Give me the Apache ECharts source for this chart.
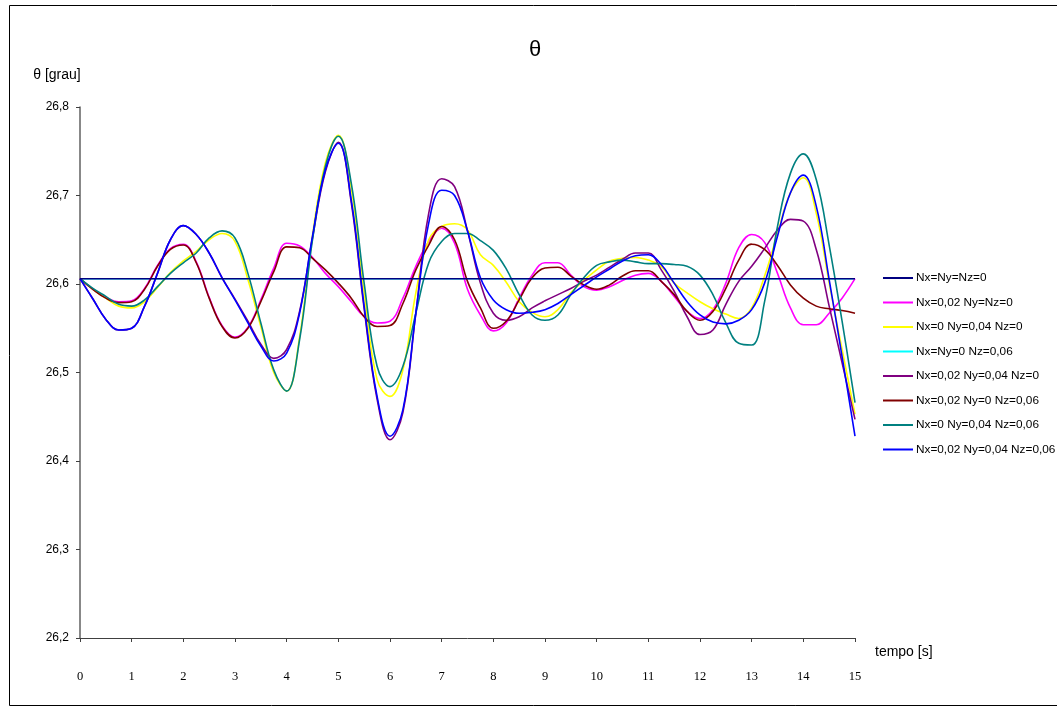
<!DOCTYPE html>
<html>
<head>
<meta charset="utf-8">
<script src="https://cdn.jsdelivr.net/npm/echarts@6/dist/echarts.min.js"></script>
<style>
html,body{margin:0;padding:0;background:#fff;}
#chart{width:1057px;height:715px;}
</style>
</head>
<body>
<div id="chart"></div>
<script>
// ---- data ----
const tempo = [0,0.25,0.5,0.75,1,1.25,1.5,1.75,2,2.25,2.5,2.75,3,3.25,3.5,3.75,4,4.25,4.5,4.75,5,5.25,5.5,5.75,6,6.25,6.5,6.75,7,7.25,7.5,7.75,8,8.25,8.5,8.75,9,9.25,9.5,9.75,10,10.25,10.5,10.75,11,11.25,11.5,11.75,12,12.25,12.5,12.75,13,13.25,13.5,13.75,14,14.25,14.5,14.75,15];
const tempoConst = [0, 15];

const seriesNames = [
  'Nx=Ny=Nz=0',
  'Nx=0,02 Ny=Nz=0',
  'Nx=0 Ny=0,04 Nz=0',
  'Nx=Ny=0 Nz=0,06',
  'Nx=0,02 Ny=0,04 Nz=0',
  'Nx=0,02 Ny=0 Nz=0,06',
  'Nx=0 Ny=0,04 Nz=0,06',
  'Nx=0,02 Ny=0,04 Nz=0,06'
];

const sNull = [26.606, 26.606];
const sNx = [26.606,26.594,26.585,26.580,26.581,26.595,26.621,26.640,26.645,26.625,26.585,26.553,26.540,26.551,26.582,26.618,26.646,26.643,26.630,26.612,26.597,26.580,26.563,26.556,26.558,26.584,26.620,26.648,26.663,26.646,26.594,26.565,26.547,26.556,26.584,26.610,26.624,26.624,26.610,26.597,26.593,26.597,26.604,26.610,26.612,26.603,26.586,26.569,26.561,26.571,26.601,26.641,26.656,26.647,26.612,26.573,26.554,26.554,26.567,26.584,26.606];
const sNy = [26.606,26.594,26.584,26.575,26.573,26.580,26.596,26.613,26.626,26.637,26.650,26.657,26.648,26.605,26.552,26.500,26.479,26.540,26.655,26.737,26.768,26.708,26.590,26.492,26.473,26.503,26.590,26.650,26.665,26.668,26.661,26.633,26.621,26.602,26.580,26.568,26.563,26.571,26.590,26.604,26.616,26.626,26.629,26.630,26.627,26.620,26.601,26.590,26.580,26.572,26.566,26.561,26.573,26.609,26.657,26.703,26.720,26.680,26.601,26.526,26.453];
const sNz = [26.606, 26.606];
const sNxNy = [26.606,26.583,26.560,26.548,26.550,26.575,26.612,26.650,26.666,26.656,26.635,26.607,26.583,26.558,26.532,26.516,26.526,26.569,26.652,26.727,26.760,26.692,26.572,26.470,26.424,26.455,26.567,26.680,26.719,26.710,26.660,26.601,26.567,26.559,26.563,26.573,26.581,26.588,26.595,26.603,26.610,26.619,26.628,26.635,26.635,26.616,26.592,26.563,26.543,26.548,26.577,26.603,26.620,26.640,26.661,26.673,26.671,26.639,26.575,26.511,26.447];
const sNxNz = [26.606,26.594,26.584,26.579,26.580,26.594,26.620,26.639,26.644,26.624,26.584,26.552,26.539,26.550,26.580,26.614,26.642,26.641,26.629,26.616,26.601,26.584,26.563,26.552,26.553,26.578,26.616,26.644,26.665,26.650,26.603,26.573,26.550,26.558,26.582,26.607,26.618,26.619,26.609,26.599,26.594,26.599,26.609,26.615,26.615,26.603,26.588,26.569,26.559,26.569,26.595,26.627,26.645,26.639,26.621,26.599,26.584,26.575,26.572,26.570,26.567];
const sNyNz = [26.606,26.595,26.586,26.577,26.575,26.582,26.597,26.612,26.624,26.635,26.652,26.660,26.652,26.612,26.556,26.503,26.479,26.537,26.650,26.733,26.767,26.714,26.601,26.507,26.484,26.507,26.567,26.624,26.648,26.657,26.657,26.649,26.638,26.617,26.588,26.565,26.559,26.565,26.588,26.607,26.621,26.625,26.627,26.625,26.623,26.623,26.622,26.620,26.610,26.588,26.556,26.533,26.531,26.580,26.665,26.725,26.747,26.718,26.644,26.558,26.466];
const sNxNyNz = [26.606,26.583,26.560,26.548,26.550,26.575,26.612,26.650,26.666,26.656,26.635,26.607,26.582,26.556,26.530,26.513,26.522,26.567,26.654,26.729,26.759,26.695,26.575,26.473,26.428,26.458,26.567,26.669,26.706,26.700,26.660,26.607,26.582,26.571,26.567,26.568,26.571,26.578,26.588,26.598,26.608,26.617,26.626,26.632,26.633,26.622,26.601,26.580,26.565,26.557,26.555,26.559,26.571,26.601,26.654,26.703,26.723,26.688,26.605,26.518,26.428];

const yTicks = [26.2, 26.3, 26.4, 26.5, 26.6, 26.7, 26.8];
const xTicks = [0,1,2,3,4,5,6,7,8,9,10,11,12,13,14,15];

const colors = ['#000080','#FF00FF','#FFFF00','#00FFFF','#800080','#800000','#008080','#0000FF'];

function pairs(xs, ys) { return xs.map((x, i) => [x, ys[i]]); }

const seriesData = [
  pairs(tempoConst, sNull),
  pairs(tempo, sNx),
  pairs(tempo, sNy),
  pairs(tempoConst, sNz),
  pairs(tempo, sNxNy),
  pairs(tempo, sNxNz),
  pairs(tempo, sNyNz),
  pairs(tempo, sNxNyNz)
];

const chart = echarts.init(document.getElementById('chart'), null, {renderer: 'canvas'});

const option = {
  backgroundColor: '#ffffff',
  animation: false,
  color: colors,
  title: {
    text: 'θ',
    left: 524,
    top: 34,
    textStyle: {fontFamily: 'Liberation Sans, Arial, sans-serif', fontSize: 22, fontWeight: 'normal', color: '#000'}
  },
  legend: {
    orient: 'vertical',
    left: 878,
    top: 267,
    itemWidth: 30,
    itemHeight: 12,
    itemGap: 12.5,
    icon: 'path://M0,5 L30,5 L30,7 L0,7 Z',
    textStyle: {fontFamily: 'Liberation Sans, Arial, sans-serif', fontSize: 11.8, color: '#000', padding: [0,0,0,-2]},
    data: seriesNames
  },
  grid: {left: 80, right: 202, top: 107, bottom: 77, containLabel: false},
  xAxis: {
    type: 'value',
    min: 0, max: 15, interval: 1,
    name: 'tempo [s]',
    nameLocation: 'end',
    nameGap: 20,
    nameTextStyle: {fontFamily: 'Liberation Sans, Arial, sans-serif', fontSize: 14, color: '#000', align: 'left', verticalAlign: 'top', padding: [7,0,0,0]},
    axisLine: {show: true, onZero: false, lineStyle: {color: '#404040', width: 1}},
    axisTick: {show: true, length: 4, inside: false, lineStyle: {color: '#404040'}},
    axisLabel: {margin: 32, fontFamily: 'Liberation Serif, Times New Roman, serif', fontSize: 12.5, color: '#000',
      customValues: xTicks},
    splitLine: {show: false}
  },
  yAxis: {
    type: 'value',
    min: 26.2, max: 26.8, interval: 0.1,
    name: 'θ [grau]',
    nameLocation: 'end',
    nameGap: 25,
    nameTextStyle: {fontFamily: 'Liberation Sans, Arial, sans-serif', fontSize: 14, color: '#000', align: 'center', padding: [0,46,0,0]},
    axisLine: {show: true, onZero: false, lineStyle: {color: '#606060', width: 1.5}},
    axisTick: {show: true, length: 4, inside: false, lineStyle: {color: '#404040'}},
    axisLabel: {margin: 11, fontFamily: 'Liberation Sans, Arial, sans-serif', fontSize: 12, color: '#000',
      customValues: yTicks,
      formatter: v => v.toFixed(1).replace('.', ',')},
    splitLine: {show: false}
  },
  series: seriesNames.map((name, i) => ({
    name: name,
    type: 'line',
    data: seriesData[i],
    smooth: 0.4,
    symbol: 'none',
    showSymbol: false,
    z: i === 0 ? 5 : (i === 3 ? 1 : 2),
    lineStyle: {width: 1.6, color: colors[i]},
    itemStyle: {color: colors[i]},
    emphasis: {disabled: true}
  })),
  graphic: [{
    type: 'rect',
    shape: {x: 9.5, y: 5.5, width: 1060, height: 700},
    style: {fill: 'none', stroke: '#000', lineWidth: 1},
    silent: true,
    z: -1
  }]
};
chart.setOption(option);
</script>
</body>
</html>
